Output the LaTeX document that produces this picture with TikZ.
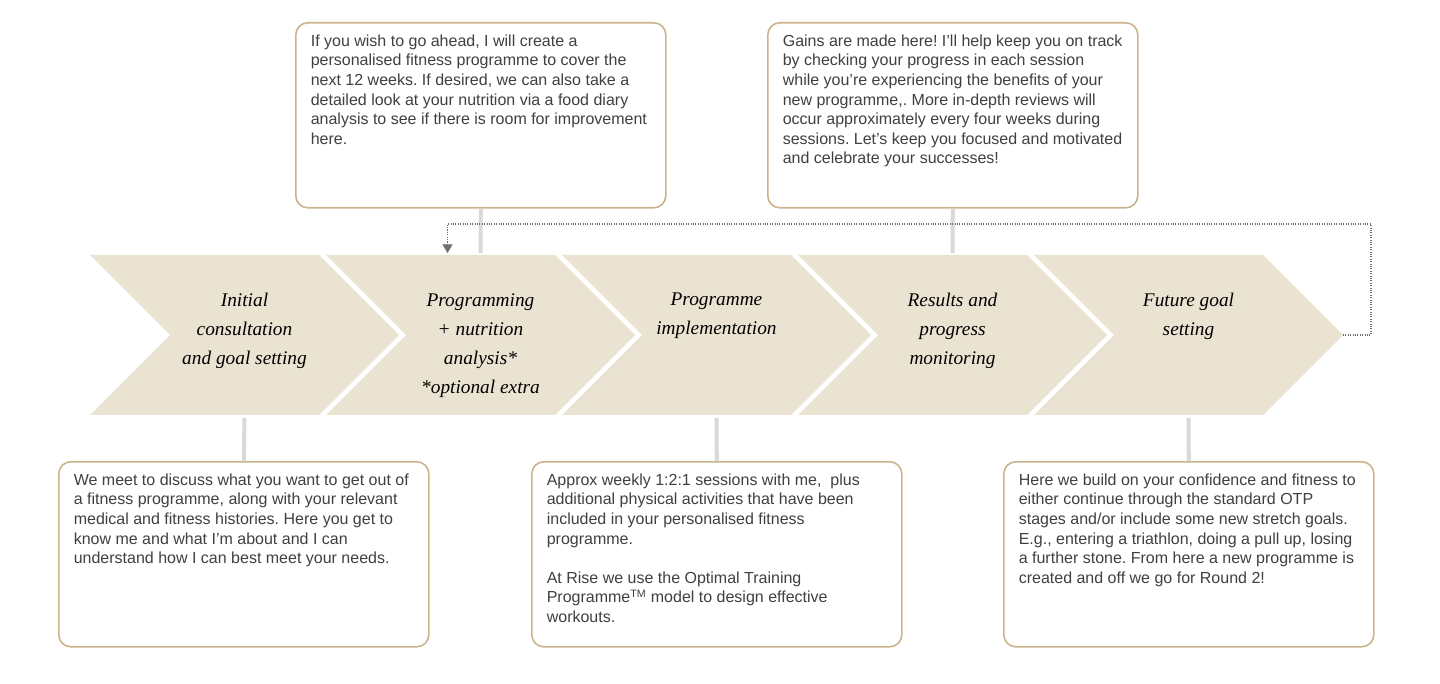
\documentclass[tikz,border=0pt]{standalone}
\usepackage{fontspec}
\setmainfont{Liberation Sans}
\newfontfamily\stagefont{Liberation Serif}
\usepackage{xcolor}
\usetikzlibrary{arrows.meta,calc}
\definecolor{stagebeige}{HTML}{EAE3D2}
\definecolor{boxedge}{HTML}{C9B48C}
\definecolor{boxtext}{HTML}{404040}
\definecolor{linkgray}{HTML}{D9D9D9}
\definecolor{loopgray}{HTML}{6F6F6F}
\tikzset{
	stage/.style={fill=stagebeige, draw=none},
	stagelabel/.style={anchor=north, align=center, inner sep=0pt, text=black,
			font=\stagefont\itshape\fontsize{14.5}{21.75}\selectfont},
	infobox/.style={draw=boxedge, line width=1.2pt, rounded corners=9pt, fill=white,
			anchor=north west, inner xsep=11.25pt, inner ysep=9pt, text=boxtext,
			font=\fontsize{12}{14.7}\selectfont},
	link/.style={draw=linkgray, line width=3pt},
	loopline/.style={draw=loopgray, densely dotted, line width=0.8pt,
			-{Triangle[width=7.5pt,length=6.5pt]}}
}
\newcommand{\boxcopy}[1]{\parbox[t][120.75pt][t]{255pt}{\raggedright\frenchspacing #1}}

\begin{document}
\begin{tikzpicture}[x=0.75pt, y=-0.75pt]
	\useasboundingbox (0,0) rectangle (1440,684);

	% the five stages
	\foreach \i/\txt in {1/{Initial\\consultation\\and goal setting},
			2/{Programming\\+ nutrition\\analysis*\\*optional extra},
			3/{Programme\\implementation},
			4/{Results and\\progress\\monitoring},
			5/{Future goal\\setting}} {
		\pgfmathsetmacro{\xs}{90+(\i-1)*236}
		\fill [stage] (\xs,255) -- ++(229,0) -- ++(80,80) -- ++(-80,80)
			-- ++(-229,0) -- ++(80,-80) -- cycle;
		\node [stagelabel] (stage\i) at (\xs+154.5,293) {\txt};
		\coordinate (stage\i-top) at (\xs+154.5,255);
		\coordinate (stage\i-bot) at (\xs+154.5,415);
		\coordinate (stage\i-tip) at (\xs+309,335);
	}

	% text boxes
	\node [infobox] (infoA) at (295,22) {\boxcopy{If you wish to go ahead, I will create a\\
			personalised fitness programme to cover the\\
			next 12 weeks. If desired, we can also take a\\
			detailed look at your nutrition via a food diary\\
			analysis to see if there is room for improvement\\
			here.}};
	\node [infobox] (infoB) at (767,22) {\boxcopy{Gains are made here! I’ll help keep you on track\\
			by checking your progress in each session\\
			while you’re experiencing the benefits of your\\
			new programme,. More in-depth reviews will\\
			occur approximately every four weeks during\\
			sessions. Let’s keep you focused and motivated\\
			and celebrate your successes!}};
	\node [infobox] (infoC) at (58,461) {\boxcopy{We meet to discuss what you want to get out of\\
			a fitness programme, along with your relevant\\
			medical and fitness histories. Here you get to\\
			know me and what I’m about and I can\\
			understand how I can best meet your needs.}};
	\node [infobox] (infoD) at (531,461) {\boxcopy{Approx weekly 1:2:1 sessions with me,~ plus\\
			additional physical activities that have been\\
			included in your personalised fitness\\
			programme.\par\vskip\baselineskip
			At Rise we use the Optimal Training\\
			Programme\textsuperscript{TM} model to design effective\\
			workouts.}};
	\node [infobox] (infoE) at (1003,461) {\boxcopy{Here we build on your confidence and fitness to\\
			either continue through the standard OTP\\
			stages and/or include some new stretch goals.\\
			E.g., entering a triathlon, doing a pull up, losing\\
			a further stone. From here a new programme is\\
			created and off we go for Round 2!}};

	% links
	\draw [link] (infoA.south) -- ($(stage2-top)+(0,-2)$);
	\draw [link] (infoB.south) -- ($(stage4-top)+(0,-2)$);
	\draw [link] ($(stage1-bot)+(0,3)$) -- (infoC.north);
	\draw [link] ($(stage3-bot)+(0,3)$) -- (infoD.north);
	\draw [link] ($(stage5-bot)+(0,3)$) -- (infoE.north);

	% back to programming
	\coordinate (loopin) at ($(stage2-top)+(-33,-2)$);
	\draw [loopline] (stage5-tip) -- ++(28,0) |- ($(loopin)+(0,-29)$) -- (loopin);
\end{tikzpicture}
\end{document}
